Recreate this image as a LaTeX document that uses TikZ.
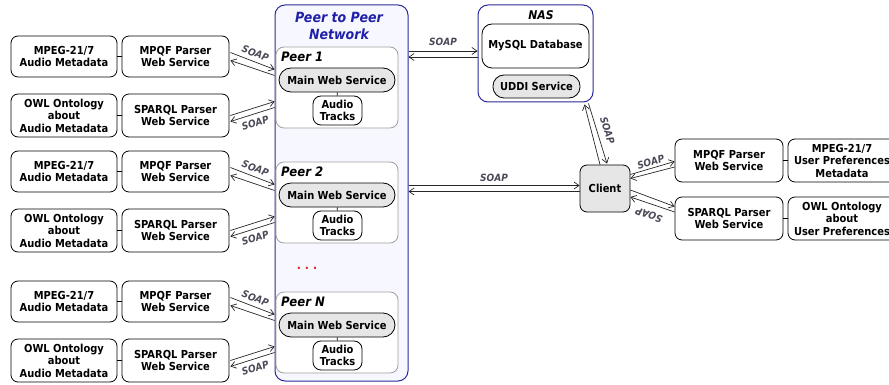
\documentclass[tikz,border=0pt]{standalone}
\usepackage{fontspec}
\setmainfont{DejaVu Sans Condensed}[
  BoldFont={DejaVu Sans Condensed Bold},
  ItalicFont={DejaVu Sans Condensed Oblique},
  BoldItalicFont={DejaVu Sans Condensed Bold Oblique}]
\usetikzlibrary{arrows.meta,calc}
\definecolor{netblue}{HTML}{2B2B9A}
\definecolor{netfill}{HTML}{F7F7FF}
\definecolor{titleblue}{HTML}{2020A8}
\definecolor{soapgray}{HTML}{4A4A58}
\definecolor{wsgray}{HTML}{E6E6E6}
\definecolor{peergray}{HTML}{A0A0A0}
\definecolor{dotred}{HTML}{E02020}

\begin{document}
\begin{tikzpicture}[x=1pt,y=-1pt,
  every node/.style={font=\bfseries\fontsize{11}{12.5}\selectfont, align=center, inner sep=0pt},
  box/.style={draw=black, line width=0.8pt, rounded corners=7pt, fill=white},
  pill/.style={draw=black, line width=0.8pt, rounded corners=10pt, fill=wsgray},
  peerbox/.style={draw=peergray, line width=0.8pt, rounded corners=8pt, fill=white},
  group/.style={draw=netblue, line width=1pt, rounded corners=10pt},
  peerlbl/.style={font=\bfseries\itshape\fontsize{13}{15}\selectfont, anchor=west},
  soap/.style={font=\bfseries\itshape\fontsize{10}{10}\selectfont, text=soapgray, inner sep=1pt},
  arr/.style={draw=black!85, line width=0.7pt, -{Straight Barb[length=5pt,width=7pt]}},
  arrback/.style={draw=black!85, line width=0.7pt, {Straight Barb[length=5pt,width=7pt]}-},
  link/.style={draw=black, line width=0.8pt}]
\useasboundingbox (0,0) rectangle (889,385);

% peer-to-peer network container
\node[group, fill=netfill, minimum width=133pt, minimum height=376pt] (net) at (341.5,193) {};
\node[font=\bfseries\itshape\fontsize{14}{17}\selectfont, text=titleblue] (ttl) at (339,25.5) {Peer to Peer\\Network};
\node[font=\bfseries\fontsize{12}{12}\selectfont, text=dotred] (dots) at (307,268) {.\,\,.\,\,.};

% one peer with its two parser services and metadata sources
\foreach \o/\n/\k in {0/1/1, 115/2/2, 245/N/3}{
  \node[peerbox, minimum width=122pt, minimum height=81pt] (peer\k) at (337,87.5+\o) {};
  \node[peerlbl] (plbl\k) at (281,57+\o) {Peer \n};
  \node[pill, rounded corners=12pt, minimum width=116pt, minimum height=24pt] (mws\k) at (337,80+\o) {Main Web Service};
  \node[box, rounded corners=8pt, minimum width=49pt, minimum height=29pt] (aud\k) at (337.5,110.5+\o) {Audio\\Tracks};
  \draw[link] (mws\k) -- (aud\k);

  \node[box, minimum width=106pt, minimum height=41pt] (ma\k) at (64,56.5+\o) {MPEG-21/7\\Audio Metadata};
  \node[box, minimum width=107pt, minimum height=41pt] (mp\k) at (175.5,56.5+\o) {MPQF Parser\\Web Service};
  \node[box, minimum width=106pt, minimum height=43pt] (ow\k) at (64,115.5+\o) {OWL Ontology\\about\\Audio Metadata};
  \node[box, minimum width=107pt, minimum height=43pt] (sp\k) at (175.5,115.5+\o) {SPARQL Parser\\Web Service};
  \draw[link] (ma\k) -- (mp\k);
  \draw[link] (ow\k) -- (sp\k);

  \draw[arr] ($(mp\k.east)+(1,-4)$) -- node[soap, sloped, above=3pt] {SOAP} ($(peer\k.west)+(-1,-18)$);
  \draw[arr] ($(peer\k.west)+(-1,-12)$) -- ($(mp\k.east)+(1,4)$);
  \draw[arr] ($(sp\k.east)+(1,0)$) -- ($(peer\k.west)+(-1,14)$);
  \draw[arrback] ($(sp\k.east)+(1,6)$) -- node[soap, sloped, below=4pt] {SOAP} ($(peer\k.west)+(-1,20)$);
}

% NAS storage
\node[group, fill=white, minimum width=115pt, minimum height=97pt] (nas) at (535.5,53.5) {};
\node[font=\bfseries\itshape\fontsize{12}{12}\selectfont] (naslbl) at (541,15) {NAS};
\node[box, rounded corners=10pt, minimum width=107pt, minimum height=44pt] (db) at (535.5,46) {MySQL Database};
\node[pill, rounded corners=11pt, minimum width=87pt, minimum height=23pt] (uddi) at (536.5,86.5) {UDDI Service};

% client and its parser services
\node[box, fill=wsgray, rounded corners=7pt, minimum width=50pt, minimum height=47pt] (client) at (605,188.5) {Client};
\node[box, minimum width=108pt, minimum height=43pt] (rm) at (729,160.5) {MPQF Parser\\Web Service};
\node[box, minimum width=108pt, minimum height=43pt] (rs) at (729,218.5) {SPARQL Parser\\Web Service};
\node[box, minimum width=108pt, minimum height=43pt] (rmd) at (842,160.5) {MPEG-21/7\\User Preferences\\Metadata};
\node[box, minimum width=108pt, minimum height=43pt] (rsd) at (842,218.5) {OWL Ontology\\about\\User Preferences};
\draw[link] (rm) -- (rmd);
\draw[link] (rs) -- (rsd);

% SOAP exchanges
\draw[arr] ($(net.east|-nas.west)+(0,-2.5)$) -- node[soap, above=4pt] {SOAP} ($(nas.west)+(0,-2.5)$);
\draw[arr] ($(nas.west)+(0,3.5)$) -- ($(net.east|-nas.west)+(0,3.5)$);

\draw[arr] ($(net.east|-client.west)+(0,-3)$) -- node[soap, above=3pt] {SOAP} ($(client.west)+(0,-3)$);
\draw[arr] ($(client.west)+(0,3)$) -- ($(net.east|-client.west)+(0,3)$);

\draw[arr] ($(client.north)+(-5,0)$) -- ($(nas.south east)+(-9,2)$);
\draw[arr] ($(nas.south east)+(-5,1)$) -- node[soap, sloped, above=5pt] {SOAP} ($(client.north)+(2,-1)$);

\draw[arr] ($(client.east)+(0,-14)$) -- node[soap, sloped, above=1pt] {SOAP} ($(rm.west)+(0,1)$);
\draw[arr] ($(rm.west)+(0,6.5)$) -- ($(client.east)+(0,-10)$);

\draw[arr] ($(client.east)+(0,1.5)$) -- ($(rs.west)+(0,-12)$);
\draw[arr] ($(rs.west)+(0,-6.5)$) -- node[soap, sloped, allow upside down, above=6pt] {SOAP} ($(client.east)+(0,8.5)$);
\end{tikzpicture}
\end{document}
